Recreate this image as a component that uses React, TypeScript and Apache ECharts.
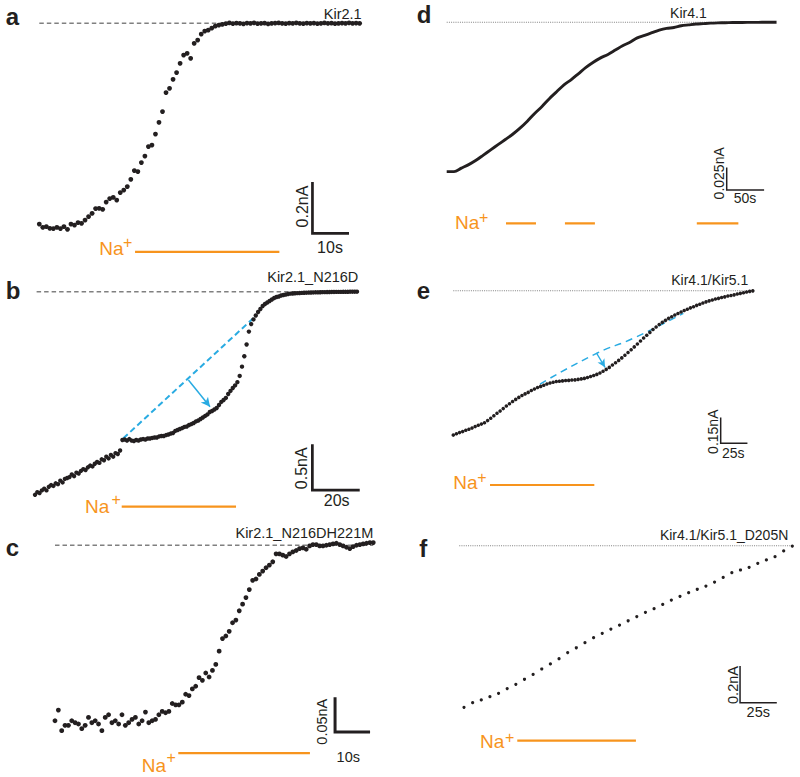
import React, { useEffect, useRef } from "react";
import * as echarts from "echarts";

// ---------- DATA (time in s, current in nA relative to the control level) ----------
const aStep = 1;
const aCurrent = [
  -0.803, -0.816, -0.813, -0.82, -0.821, -0.816, -0.821, -0.813, -0.824, -0.803,
  -0.807, -0.797, -0.8, -0.787, -0.773, -0.76, -0.741, -0.74, -0.744, -0.715,
  -0.701, -0.696, -0.707, -0.677, -0.667, -0.653, -0.624, -0.589, -0.593, -0.557,
  -0.531, -0.493, -0.487, -0.443, -0.396, -0.353, -0.277, -0.26, -0.224, -0.197,
  -0.16, -0.127, -0.12, -0.14, -0.08, -0.067, -0.043, -0.031, -0.027, -0.019,
  -0.011, -0.007, -0.004, -0.001,
  0.002, -0.001, 0.001, 0, -0.002, 0.001, 0, 0.002, -0.001, 0,
  0.001, -0.002, 0, 0.001, 0.002, 0, -0.001, 0.001, 0, 0.002,
  0, -0.001, 0.001, 0, 0.001, -0.001, 0, 0.002, 0, 0.001,
  -0.001, 0, 0.001, 0, 0.002, 0, 0.001, 0,
];

const bStep = 1;
const bCurrent = [
  -2.29, -2.26, -2.27, -2.24, -2.22, -2.24, -2.2, -2.18, -2.19, -2.16,
  -2.17, -2.13, -2.15, -2.11, -2.1, -2.09, -2.06, -2.08, -2.04, -2.05,
  -2.02, -2.0, -2.01, -1.98, -1.96, -1.97, -1.94, -1.92, -1.93, -1.89,
  -1.9, -1.86, -1.88, -1.84, -1.86, -1.82, -1.83, -1.79,
  -1.672, -1.666, -1.678, -1.661, -1.678, -1.683, -1.672, -1.678, -1.666, -1.661,
  -1.666, -1.655, -1.655, -1.649, -1.644, -1.644, -1.632, -1.627, -1.627, -1.616,
  -1.61, -1.599, -1.593, -1.57, -1.559, -1.548, -1.537, -1.525, -1.52, -1.503,
  -1.492, -1.48, -1.463, -1.452, -1.435, -1.418, -1.401, -1.384, -1.356, -1.345,
  -1.328, -1.311, -1.277, -1.243, -1.221, -1.198, -1.153, -1.119, -1.086, -1.057,
  -1.02, -0.95, -0.845, -0.728, -0.595, -0.45, -0.365, -0.313, -0.268, -0.229,
  -0.195, -0.161, -0.139, -0.122, -0.105, -0.088, -0.071, -0.06, -0.054, -0.043,
  -0.037, -0.032, -0.026,
  -0.022, -0.02, -0.018, -0.016, -0.015, -0.013, -0.012, -0.011, -0.01, -0.009,
  -0.008, -0.007, -0.007, -0.006, -0.005, -0.005, -0.004, -0.004, -0.003, -0.003,
  -0.002, -0.002, -0.002, -0.001, -0.001, -0.001, 0, 0, 0, 0,
];

const cStep = 1;
const cCurrent = [
  -0.265, -0.249, -0.28, -0.272, -0.272, -0.265, -0.268, -0.27, -0.277, -0.272,
  -0.26, -0.268, -0.265, -0.27, -0.28, -0.26, -0.256, -0.268, -0.265, -0.27,
  -0.256, -0.272, -0.268, -0.263, -0.26, -0.27, -0.265, -0.252, -0.268, -0.265,
  -0.263, -0.256, -0.251, -0.253, -0.251, -0.239, -0.241, -0.241, -0.237, -0.225,
  -0.227, -0.217, -0.213, -0.2, -0.204, -0.193, -0.199, -0.189, -0.18, -0.16,
  -0.141, -0.137, -0.13, -0.117, -0.113, -0.099, -0.089, -0.079, -0.067, -0.053,
  -0.051, -0.044, -0.039, -0.034, -0.03, -0.025, -0.013, -0.013, -0.015, -0.017,
  -0.013, -0.01, -0.008, -0.005, -0.004, -0.006, -0.001, 0.001, 0.001, -0.001,
  -0.001, 0, 0.001, 0.002, 0.003, 0.001, -0.001, -0.003, -0.005, -0.002,
  0, 0.001, 0.002, 0.003, 0.004, 0.004,
];

const dStep = 10;
const dCurrent = [
  -0.172, -0.172, -0.168, -0.164, -0.159, -0.153, -0.147, -0.141, -0.135, -0.129,
  -0.122, -0.114, -0.105, -0.097, -0.088, -0.08, -0.072, -0.066, -0.059, -0.052,
  -0.046, -0.041, -0.037, -0.032, -0.027, -0.023, -0.018, -0.015, -0.012, -0.009,
  -0.007, -0.006, -0.004, -0.003, -0.002, -0.0015, -0.001, -0.0007, -0.0005, -0.0003,
  -0.0002, -0.0001, -0.0001, 0, 0, 0,
];

const eStep = 3;
const eCurrent = [
  -0.866, -0.858, -0.851, -0.845, -0.837, -0.831, -0.824, -0.815, -0.807, -0.8,
  -0.792, -0.779, -0.765, -0.75, -0.735, -0.722, -0.707, -0.692, -0.678, -0.665,
  -0.652, -0.64, -0.629, -0.619, -0.61, -0.599, -0.59, -0.581, -0.574, -0.567,
  -0.56, -0.554, -0.549, -0.545, -0.543, -0.541, -0.539, -0.538, -0.536, -0.535,
  -0.532, -0.529, -0.526, -0.521, -0.515, -0.509, -0.502, -0.494, -0.483, -0.472,
  -0.46, -0.446, -0.432, -0.418, -0.403, -0.387, -0.371, -0.354, -0.337, -0.32,
  -0.302, -0.284, -0.267, -0.25, -0.233, -0.218, -0.203, -0.19, -0.178, -0.166,
  -0.156, -0.146, -0.137, -0.128, -0.119, -0.111, -0.103, -0.096, -0.088, -0.081,
  -0.074, -0.067, -0.061, -0.056, -0.05, -0.046, -0.041, -0.037, -0.032, -0.029,
  -0.025, -0.02, -0.016, -0.012, -0.008, -0.004, -0.001,
];

const fStep = 6;
const fCurrent = [
  -0.898, -0.872, -0.857, -0.839, -0.82, -0.794, -0.77, -0.742, -0.715, -0.685,
  -0.657, -0.628, -0.594, -0.567, -0.539, -0.511, -0.487, -0.463, -0.441, -0.417,
  -0.394, -0.37, -0.35, -0.326, -0.302, -0.281, -0.261, -0.242, -0.224, -0.202,
  -0.176, -0.15, -0.135, -0.12, -0.098, -0.079, -0.061, -0.029, -0.002,
];

// Na+ application periods [start s, end s]
const aNa = [[27.2, 68.2]];
const bNa = [[37.7, 87.4]];
const cNa = [[36.8, 76.1]];
const dNa = [[80.9, 121.8], [161.3, 202.2], [341.2, 397.9]];
const eNa = [[35.3, 135.6]];
const fNa = [[37.0, 119.4]];

// scale bars [seconds, nA] and labels
const scaleSeconds = [10, 20, 10, 50, 25, 25];
const scaleNA = [0.2, 0.5, 0.05, 0.025, 0.15, 0.2];
const scaleTimeLabels = ["10s", "20s", "10s", "50s", "25s", "25s"];
const scaleCurrentLabels = ["0.2nA", "0.5nA", "0.05nA", "0.025nA", "0.15nA", "0.2nA"];
const channelNames = [
  "Kir2.1",
  "Kir2.1_N216D",
  "Kir2.1_N216DH221M",
  "Kir4.1",
  "Kir4.1/Kir5.1",
  "Kir4.1/Kir5.1_D205N",
];
const panelLetters = ["a", "b", "c", "d", "e", "f"];

// linear-fit guides (blue dashed) in b and e: [t, nA]
const bGuide = [[38.4, -1.653], [96.4, -0.263]];
const bArrow = [[66.7, -0.995], [76.1, -1.296]];
const eGuide = [[83.4, -0.56], [137.9, -0.3755], [173.1, -0.2855], [221.2, -0.1356]];
const eArrow = [[137.9, -0.3755], [145.9, -0.4595]];

// ---------- LAYOUT ----------
const FONT = "'Liberation Sans', Arial, Helvetica, sans-serif";
const INK = "#231f20";
const ORANGE = "#f7941d";
const CYAN = "#29abe2";
const GREY = "#808080";

type Panel = {
  ox: number; oy: number; sx: number; sy: number;
  xmin: number; xmax: number; ymin: number; ymax: number;
  data: number[]; step: number; kind: "dot" | "line"; size: number;
  base: [number, number]; dashed: boolean;
  na: number[][]; naY: number;
  bar: [number, number]; barW: number;
};

const panels: Panel[] = [
  { ox: 39.3, oy: 23.3, sx: 3.52, sy: 250, xmin: -10, xmax: 100, ymin: -1.0, ymax: 0.08,
    data: aCurrent, step: aStep, kind: "dot", size: 4.8, base: [0, 91.6], dashed: true,
    na: aNa, naY: -0.914, bar: [77.6, -0.84], barW: 2.7 },
  { ox: 35, oy: 291.7, sx: 2.3, sy: 88.7, xmin: -10, xmax: 155, ymin: -2.8, ymax: 0.2,
    data: bCurrent, step: bStep, kind: "dot", size: 4.4, base: [0.7, 140.6], dashed: true,
    na: bNa, naY: -2.424, bar: [120.6, -2.236], barW: 2.7 },
  { ox: 55, oy: 546, sx: 3.35, sy: 700, xmin: -10, xmax: 100, ymin: -0.35, ymax: 0.02,
    data: cCurrent, step: cStep, kind: "dot", size: 4.8, base: [0, 95], dashed: true,
    na: cNa, naY: -0.314, bar: [83.6, -0.2819], barW: 3 },
  { ox: 446.7, oy: 22.3, sx: 0.733, sy: 868, xmin: -20, xmax: 470, ymin: -0.26, ymax: 0.015,
    data: dCurrent, step: dStep, kind: "line", size: 2.9, base: [0, 450], dashed: false,
    na: dNa, naY: -0.2316, bar: [382, -0.1932], barW: 1.5 },
  { ox: 453.3, oy: 290.7, sx: 1.04, sy: 166.7, xmin: -20, xmax: 300, ymin: -1.25, ymax: 0.08,
    data: eCurrent, step: eStep, kind: "dot", size: 3.6, base: [0, 287], dashed: false,
    na: eNa, naY: -1.1656, bar: [257.1, -0.9154], barW: 1.5 },
  { ox: 464, oy: 545.7, sx: 1.44, sy: 180, xmin: -10, xmax: 232, ymin: -1.2, ymax: 0.1,
    data: fCurrent, step: fStep, kind: "dot", size: 3.2, base: [-3.3, 228.7], dashed: false,
    na: fNa, naY: -1.083, bar: [191.7, -0.872], barW: 1.5 },
];

// text placement (pixels)
const letterPos = [[12.5, 16.7], [13, 290.7], [12.5, 547.3], [424, 14.3], [423.3, 290], [423.3, 548.3]];
const namePos = [[361.7, 14, "right"], [358.3, 277.3, "right"], [373.3, 532.7, "right"],
  [706.7, 13.3, "right"], [748.3, 280, "right"], [788.3, 535, "right"]];
const nameSize = [14.5, 14.5, 14.5, 14, 14, 14];
const naTextPos = [[99.3, 248, 123, 242], [85, 506.7, 111.5, 499], [141.7, 765, 166.5, 757.5],
  [455, 222.7, 479, 217], [453.3, 482.7, 477.3, 477], [480, 741.7, 505, 737]];
const curLabelPos = [[302.5, 206.5], [301.7, 468.3], [321.7, 721.7], [719.3, 173.3], [713.3, 431.7], [733.3, 685]];
const timeLabelPos = [[330, 247], [336.7, 500], [348.3, 757.3], [745, 198.3], [733.3, 452.7], [758.3, 711.7]];
const scaleFont = [16, 16, 14.5, 14, 14, 14.5];

function buildOption() {
  const grid: any[] = [];
  const xAxis: any[] = [];
  const yAxis: any[] = [];
  const series: any[] = [];

  panels.forEach((p, gi) => {
    grid.push({
      left: p.ox + p.sx * p.xmin,
      top: p.oy - p.sy * p.ymax,
      width: p.sx * (p.xmax - p.xmin),
      height: p.sy * (p.ymax - p.ymin),
      containLabel: false,
    });
    xAxis.push({ type: "value", gridIndex: gi, min: p.xmin, max: p.xmax, show: false });
    yAxis.push({ type: "value", gridIndex: gi, min: p.ymin, max: p.ymax, show: false });
    const ax = { xAxisIndex: gi, yAxisIndex: gi, silent: true, animation: false };

    // control level
    series.push({
      ...ax, type: "line", symbol: "none", z: 1,
      data: [[p.base[0], 0], [p.base[1], 0]],
      lineStyle: p.dashed
        ? { color: GREY, width: 1.6, type: [4.5, 3] }
        : { color: GREY, width: 1.1, type: [1, 1.2] },
    });

    const pts = p.data.map((v, i) => [i * p.step, v]);
    if (p.kind === "dot") {
      series.push({
        ...ax, type: "scatter", symbol: "circle", symbolSize: p.size, z: 3,
        data: pts, itemStyle: { color: INK, opacity: 1 },
      });
    } else {
      series.push({
        ...ax, type: "line", symbol: "none", smooth: 0.3, z: 3,
        data: pts, lineStyle: { color: INK, width: p.size },
      });
    }

    // Na+ applications
    p.na.forEach((seg) => {
      series.push({
        ...ax, type: "line", symbol: "none", z: 2,
        data: [[seg[0], p.naY], [seg[1], p.naY]],
        lineStyle: { color: ORANGE, width: 2.2 },
      });
    });

    // scale bar
    const [bt, bv] = p.bar;
    series.push({
      ...ax, type: "line", symbol: "none", z: 2,
      data: [[bt, bv + scaleNA[gi]], [bt, bv], [bt + scaleSeconds[gi], bv]],
      lineStyle: { color: INK, width: p.barW, cap: "square", join: "miter" },
    });
  });

  // blue guides
  series.push({
    xAxisIndex: 1, yAxisIndex: 1, type: "line", symbol: "none", z: 2, silent: true,
    data: bGuide, lineStyle: { color: CYAN, width: 2, type: [6, 3.5] },
    markLine: {
      silent: true, symbol: ["none", "arrow"], symbolSize: [7, 9], label: { show: false },
      lineStyle: { color: CYAN, width: 1.5, type: "solid" },
      data: [[{ coord: bArrow[0] }, { coord: bArrow[1] }]],
    },
  });
  series.push({
    xAxisIndex: 4, yAxisIndex: 4, type: "line", symbol: "none", smooth: true, z: 2, silent: true,
    data: eGuide, lineStyle: { color: CYAN, width: 1.5, type: [7, 5] },
    markLine: {
      silent: true, symbol: ["none", "arrow"], symbolSize: [6, 8], label: { show: false },
      lineStyle: { color: CYAN, width: 1.3, type: "solid" },
      data: [[{ coord: eArrow[0] }, { coord: eArrow[1] }]],
    },
  });

  const graphic: any[] = [];
  panels.forEach((_, i) => {
    graphic.push({
      type: "text", x: letterPos[i][0], y: letterPos[i][1], silent: true,
      style: { text: panelLetters[i], fill: INK, fontFamily: FONT, fontWeight: "bold", fontSize: 24, align: "center", verticalAlign: "middle" },
    });
    graphic.push({
      type: "text", x: namePos[i][0] as number, y: namePos[i][1] as number, silent: true,
      style: { text: channelNames[i], fill: INK, fontFamily: FONT, fontSize: nameSize[i], align: namePos[i][2], verticalAlign: "middle" },
    });
    const n = naTextPos[i];
    graphic.push({
      type: "text", x: n[0], y: n[1], silent: true,
      style: { text: "Na", fill: ORANGE, fontFamily: FONT, fontSize: 19, align: "left", verticalAlign: "middle" },
    });
    graphic.push({
      type: "text", x: n[2], y: n[3], silent: true,
      style: { text: "+", fill: ORANGE, fontFamily: FONT, fontSize: 16, align: "left", verticalAlign: "middle" },
    });
    graphic.push({
      type: "text", x: curLabelPos[i][0], y: curLabelPos[i][1], rotation: Math.PI / 2, silent: true,
      style: { text: scaleCurrentLabels[i], fill: INK, fontFamily: FONT, fontSize: scaleFont[i], align: "center", verticalAlign: "middle" },
    });
    graphic.push({
      type: "text", x: timeLabelPos[i][0], y: timeLabelPos[i][1], silent: true,
      style: { text: scaleTimeLabels[i], fill: INK, fontFamily: FONT, fontSize: scaleFont[i], align: "center", verticalAlign: "middle" },
    });
  });

  return {
    animation: false,
    backgroundColor: "#ffffff",
    grid, xAxis, yAxis, series, graphic,
  };
}

export default function App() {
  const ref = useRef<HTMLDivElement>(null);
  useEffect(() => {
    document.body.style.margin = "0";
    if (!ref.current) return;
    const chart = echarts.init(ref.current, undefined, { renderer: "svg" });
    chart.setOption(buildOption() as any);
    return () => chart.dispose();
  }, []);
  return <div ref={ref} style={{ width: 800, height: 777 }} />;
}
